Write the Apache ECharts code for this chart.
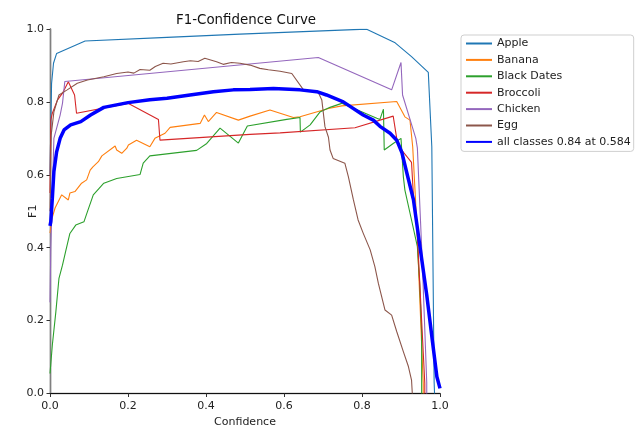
<!DOCTYPE html>
<html>
<head>
<meta charset="utf-8">
<script src="https://cdn.jsdelivr.net/npm/echarts@6/dist/echarts.min.js"></script>
<style>html,body{margin:0;padding:0;background:#fff}#c{width:636px;height:425px}</style>
</head>
<body>
<div id="c"></div>
<script>
const titleText = 'F1-Confidence Curve';
const xName = 'Confidence';
const yName = 'F1';
const seriesNames = ['Apple', 'Banana', 'Black Dates', 'Broccoli', 'Chicken', 'Egg', 'all classes 0.84 at 0.584'];
const seriesColors = ['#1f77b4', '#ff7f0e', '#2ca02c', '#d62728', '#9467bd', '#8c564b', '#0000ff'];

const apple = [[0,0.6],[0.004,0.85],[0.009,0.906],[0.017,0.933],[0.09,0.967],[0.3,0.977],[0.487,0.986],[0.795,0.999],[0.812,0.999],[0.885,0.962],[0.927,0.924],[0.97,0.881],[0.979,0.677],[0.985,0.03],[0.986,0]];
const banana = [[0,0.44],[0.005,0.48],[0.013,0.509],[0.03,0.545],[0.047,0.531],[0.051,0.55],[0.064,0.554],[0.081,0.577],[0.094,0.586],[0.103,0.613],[0.11,0.622],[0.124,0.636],[0.133,0.652],[0.167,0.679],[0.171,0.668],[0.184,0.659],[0.197,0.673],[0.201,0.682],[0.222,0.695],[0.256,0.677],[0.269,0.70],[0.295,0.714],[0.308,0.73],[0.385,0.741],[0.396,0.764],[0.406,0.746],[0.427,0.771],[0.483,0.75],[0.513,0.761],[0.564,0.778],[0.624,0.757],[0.641,0.759],[0.714,0.782],[0.748,0.789],[0.889,0.801],[0.91,0.759],[0.923,0.75],[0.93,0.677],[0.94,0.476],[0.957,0.028],[0.957,0]];
const blackDates = [[0,0.055],[0.006,0.133],[0.015,0.224],[0.023,0.316],[0.032,0.352],[0.04,0.389],[0.051,0.439],[0.066,0.462],[0.087,0.471],[0.096,0.499],[0.111,0.545],[0.126,0.563],[0.138,0.577],[0.171,0.59],[0.231,0.601],[0.239,0.632],[0.256,0.652],[0.376,0.667],[0.402,0.686],[0.436,0.728],[0.483,0.687],[0.506,0.734],[0.607,0.752],[0.641,0.757],[0.642,0.717],[0.667,0.737],[0.692,0.772],[0.718,0.785],[0.748,0.796],[0.838,0.755],[0.846,0.752],[0.855,0.78],[0.857,0.668],[0.88,0.686],[0.9,0.70],[0.906,0.595],[0.91,0.558],[0.927,0.476],[0.942,0.403],[0.948,0.3],[0.953,0.165],[0.953,0]];
const broccoli = [[0,0.55],[0.002,0.75],[0.006,0.769],[0.019,0.805],[0.032,0.824],[0.047,0.855],[0.063,0.819],[0.068,0.769],[0.07,0.77],[0.2,0.796],[0.278,0.752],[0.282,0.695],[0.513,0.711],[0.59,0.715],[0.782,0.729],[0.88,0.761],[0.889,0.70],[0.895,0.677],[0.927,0.634],[0.932,0.54],[0.94,0.476],[0.961,0.028],[0.961,0]];
const chicken = [[0,0.25],[0.002,0.4],[0.01,0.70],[0.026,0.764],[0.032,0.796],[0.038,0.856],[0.688,0.922],[0.876,0.833],[0.9,0.908],[0.904,0.819],[0.938,0.70],[0.942,0.673],[0.955,0.35],[0.966,0.03],[0.966,0]];
const egg = [[0,0.5],[0.003,0.709],[0.01,0.773],[0.023,0.819],[0.044,0.833],[0.07,0.851],[0.096,0.86],[0.138,0.869],[0.171,0.878],[0.2,0.882],[0.215,0.879],[0.231,0.889],[0.256,0.887],[0.27,0.897],[0.29,0.906],[0.31,0.904],[0.342,0.91],[0.36,0.913],[0.38,0.911],[0.397,0.92],[0.427,0.91],[0.444,0.903],[0.465,0.908],[0.487,0.906],[0.513,0.901],[0.538,0.892],[0.56,0.888],[0.59,0.884],[0.62,0.878],[0.65,0.833],[0.688,0.826],[0.697,0.805],[0.705,0.732],[0.714,0.703],[0.718,0.668],[0.726,0.645],[0.756,0.632],[0.765,0.595],[0.778,0.531],[0.79,0.476],[0.803,0.44],[0.821,0.394],[0.833,0.348],[0.842,0.302],[0.859,0.229],[0.876,0.215],[0.889,0.17],[0.906,0.115],[0.919,0.074],[0.927,0.037],[0.929,0]];
const allClasses = [[0,0.46],[0.002,0.471],[0.006,0.536],[0.01,0.609],[0.017,0.663],[0.026,0.70],[0.036,0.723],[0.053,0.737],[0.079,0.746],[0.104,0.764],[0.138,0.785],[0.2,0.798],[0.256,0.806],[0.3,0.81],[0.359,0.819],[0.419,0.828],[0.47,0.833],[0.513,0.834],[0.573,0.837],[0.641,0.833],[0.684,0.828],[0.709,0.819],[0.752,0.80],[0.803,0.764],[0.829,0.75],[0.846,0.733],[0.872,0.714],[0.889,0.695],[0.902,0.662],[0.915,0.605],[0.932,0.531],[0.949,0.40],[0.966,0.27],[0.981,0.14],[0.992,0.046],[1.0,0.014]];

const allData = [apple, banana, blackDates, broccoli, chicken, egg, allClasses];

const FONT = 'DejaVu Sans';
const chart = echarts.init(document.getElementById('c'), null, {renderer: 'canvas'});
const series = allData.map((d, i) => ({
  name: seriesNames[i],
  type: 'line',
  data: d,
  symbol: 'none',
  color: seriesColors[i],
  lineStyle: {width: i === 6 ? 3.5 : 1.1, color: seriesColors[i]},
  z: 2 + i
}));

const axisCommon = {
  type: 'value', min: 0, max: 1, interval: 0.2,
  splitLine: {show: false},
  axisLine: {show: true, lineStyle: {color: '#808080', width: 1.4}},
  axisTick: {show: true, length: 3.5, lineStyle: {color: '#333', width: 1}},
  axisLabel: {fontFamily: FONT, fontSize: 11, color: '#222', margin: 6, formatter: v => v.toFixed(1)},
  nameTextStyle: {fontFamily: FONT, fontSize: 11, color: '#222'},
  nameLocation: 'middle',
  nameMoveOverlap: false
};

chart.setOption({
  animation: false,
  backgroundColor: '#fff',
  title: {text: titleText, left: 171, top: 9, textStyle: {fontFamily: FONT, fontSize: 13.4, fontWeight: 'normal', color: '#111'}},
  grid: {left: 50, top: 29, right: 196, bottom: 31.5, containLabel: false, outerBoundsMode: 'none'},
  xAxis: [
    Object.assign({}, axisCommon, {name: xName, nameGap: 23.5, position: 'bottom',
      axisLabel: {fontFamily: FONT, fontSize: 11, color: '#222', margin: 7, formatter: v => v.toFixed(1)}}),
    {type: 'value', min: 0, max: 1, position: 'top', axisLine: {show: true, lineStyle: {color: '#111', width: 1}}, axisTick: {show: false}, axisLabel: {show: false}, splitLine: {show: false}}
  ],
  yAxis: [
    Object.assign({}, axisCommon, {name: yName, nameGap: 11, position: 'left'}),
    {type: 'value', min: 0, max: 1, position: 'right', axisLine: {show: true, lineStyle: {color: '#808080', width: 1.4}}, axisTick: {show: false}, axisLabel: {show: false}, splitLine: {show: false}}
  ],
  legend: {
    orient: 'vertical', left: 461, top: 35,
    data: seriesNames,
    itemWidth: 26, itemHeight: 10, itemGap: 5.4,
    padding: [3, 3, 4, 4],
    itemStyle: {opacity: 0},
    borderColor: '#cfcfcf', borderWidth: 1, borderRadius: 3,
    backgroundColor: '#fff',
    selectedMode: false,
    textStyle: {fontFamily: FONT, fontSize: 11, color: '#222', lineHeight: 10}
  },
  series: series
});
</script>
</body>
</html>
